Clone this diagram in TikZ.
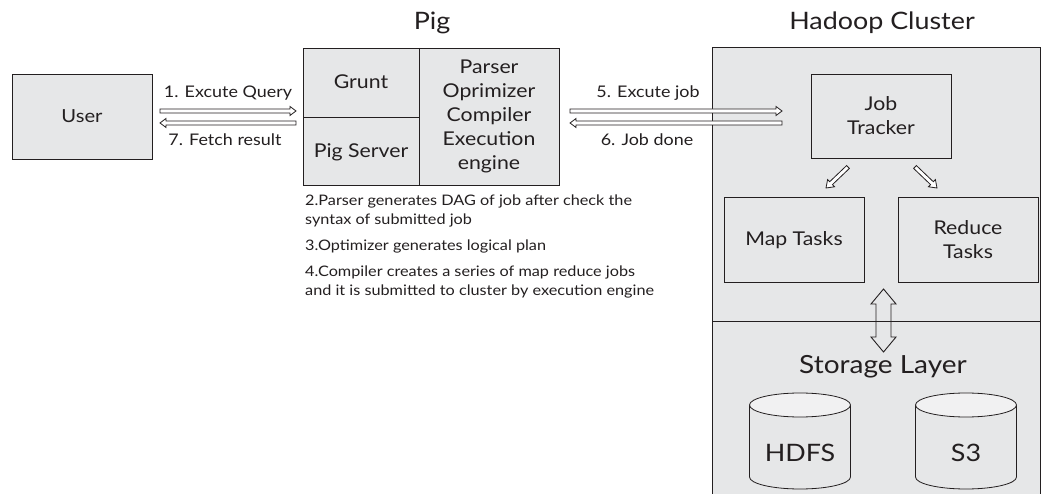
\documentclass[tikz,border=0pt]{standalone}
\usepackage{fontspec}
\setmainfont{Lato}[FakeStretch=1.12]
\usetikzlibrary{calc}
\definecolor{boxfill}{HTML}{E6E7E8}
\definecolor{topfill}{HTML}{F1F1F2}
\definecolor{ink}{HTML}{231F20}
\newcommand\hollowarrow[5]{% start, end, shaft half width, head half width, head length
  \coordinate (ha-H) at ($(#2)!#5pt!(#1)$);
  \draw[ink,line width=0.8pt,fill=white]
    ($(#1)!#3pt!90:(#2)$) -- ($(ha-H)!#3pt!-90:(#1)$) -- ($(ha-H)!#4pt!-90:(#1)$) -- (#2)
    -- ($(ha-H)!#4pt!90:(#1)$) -- ($(ha-H)!#3pt!90:(#1)$) -- ($(#1)!#3pt!-90:(#2)$) -- cycle;
}
\newcommand\dblhollowarrow[5]{%
  \coordinate (hb-A) at ($(#1)!#5pt!(#2)$);
  \coordinate (hb-B) at ($(#2)!#5pt!(#1)$);
  \draw[ink,line width=0.9pt]
    (#1) -- ($(hb-A)!#4pt!90:(#2)$) -- ($(hb-A)!#3pt!90:(#2)$) -- ($(hb-B)!#3pt!-90:(#1)$)
    -- ($(hb-B)!#4pt!-90:(#1)$) -- (#2) -- ($(hb-B)!#4pt!90:(#1)$) -- ($(hb-B)!#3pt!90:(#1)$)
    -- ($(hb-A)!#3pt!-90:(#2)$) -- ($(hb-A)!#4pt!-90:(#2)$) -- cycle;
}
\tikzset{
  gbox/.style={draw=ink,fill=boxfill,line width=0.8pt},
  lbl/.style={text=ink,inner sep=0pt,align=center},
}
\begin{document}
\begin{tikzpicture}[x=1pt,y=-1pt]
\useasboundingbox (0,0) rectangle (1042,494);
\fill[white] (0,0) rectangle (1042,494);
% Hadoop cluster container
\begin{scope}
\clip (0,0) rectangle (1042,494);
\draw[gbox] (712,47) rectangle (1040.5,500);
\draw[ink,line width=0.8pt] (712,321) -- (1040.5,321);
\end{scope}
% User
\draw[gbox] (12,74) rectangle (152,159);
\node[lbl,font=\fontsize{18}{20}\selectfont] (user) at (82,116.5) {User};
% Pig
\draw[gbox] (303,48) rectangle (559,185);
\draw[ink,line width=0.8pt] (419,48) -- (419,185);
\draw[ink,line width=0.8pt] (303,117) -- (419,117);
\node[lbl,font=\fontsize{24}{25}\selectfont] (pigtitle) at (432,23) {Pig};
\node[lbl,font=\fontsize{19}{21}\selectfont] (grunt) at (361,82) {Grunt};
\node[lbl,font=\fontsize{19}{21}\selectfont] (pigserver) at (361,152) {Pig Server};
\node[lbl,font=\fontsize{19}{24}\selectfont] (parser) at (489,116) {Parser\\Oprimizer\\Compiler\\Execution\\engine};
% arrows user <-> pig
\coordinate (a1s) at (160,111); \coordinate (a1e) at (296,111);
\coordinate (a7s) at (296,123); \coordinate (a7e) at (160,123);
\hollowarrow{a1s}{a1e}{2}{4.5}{6}
\hollowarrow{a7s}{a7e}{2}{4.5}{6}
\node[lbl,font=\fontsize{16}{17}\selectfont] (l1) at (228,93) {1. Excute Query};
\node[lbl,font=\fontsize{16}{17}\selectfont] (l7) at (225,140) {7. Fetch result};
% arrows pig <-> job tracker
\coordinate (a5s) at (570,111); \coordinate (a5e) at (782,111);
\coordinate (a6s) at (782,123); \coordinate (a6e) at (570,123);
\hollowarrow{a5s}{a5e}{2}{4.5}{6}
\hollowarrow{a6s}{a6e}{2}{4.5}{6}
\node[lbl,font=\fontsize{16}{17}\selectfont] (l5) at (648,93) {5. Excute job};
\node[lbl,font=\fontsize{16}{17}\selectfont] (l6) at (647,140) {6. Job done};
% Hadoop
\node[lbl,font=\fontsize{24}{25}\selectfont] (hadoop) at (882,23) {Hadoop Cluster};
\draw[gbox] (811,74) rectangle (951,158);
\node[lbl,font=\fontsize{19}{24}\selectfont] (jt) at (881,116) {Job\\Tracker};
\draw[gbox] (724,197) rectangle (864,282);
\node[lbl,font=\fontsize{19}{24}\selectfont] (map) at (794,240) {Map Tasks};
\draw[gbox] (898,197) rectangle (1038,282);
\node[lbl,font=\fontsize{19}{24}\selectfont] (reduce) at (968,240) {Reduce\\Tasks};
\coordinate (d1s) at (848,167); \coordinate (d1e) at (826,188);
\coordinate (d2s) at (915,167); \coordinate (d2e) at (937,188);
\hollowarrow{d1s}{d1e}{2}{5}{7}
\hollowarrow{d2s}{d2e}{2}{5}{7}
\coordinate (v1) at (883.5,289); \coordinate (v2) at (883.5,352);
\dblhollowarrow{v1}{v2}{7.5}{12.5}{15}
\node[lbl,font=\fontsize{25}{27}\selectfont] (storage) at (883,367) {Storage Layer};
% cylinders
\foreach \cx/\nm/\txt in {800/hdfs/HDFS, 966/sthree/S3}{
  \fill[boxfill] (\cx-50.5,405) -- (\cx-50.5,477) arc[start angle=180,end angle=360,x radius=50.5pt,y radius=12pt] -- (\cx+50.5,405) -- cycle;
  \draw[ink,line width=0.8pt] (\cx-50.5,405) -- (\cx-50.5,477) arc[start angle=180,end angle=360,x radius=50.5pt,y radius=12pt] -- (\cx+50.5,405);
  \draw[ink,line width=0.8pt,fill=topfill] (\cx,405) ellipse[x radius=50.5pt,y radius=12pt];
  \node[lbl,font=\fontsize{24}{28}\selectfont] (\nm) at (\cx,453) {\txt};
}
% notes
\begin{scope}[every node/.style={lbl,anchor=base west,font=\fontsize{14.5}{16}\selectfont}]
\node (n2a) at (305,206) {2.Parser generates DAG of job after check the};
\node (n2b) at (305,225) {syntax of submitted job};
\node (n3) at (305,251) {3.Optimizer generates logical plan};
\node (n4a) at (305,277) {4.Compiler creates a series of map reduce jobs};
\node (n4b) at (305,296) {and it is submitted to cluster by execution engine};
\end{scope}
\end{tikzpicture}
\end{document}
